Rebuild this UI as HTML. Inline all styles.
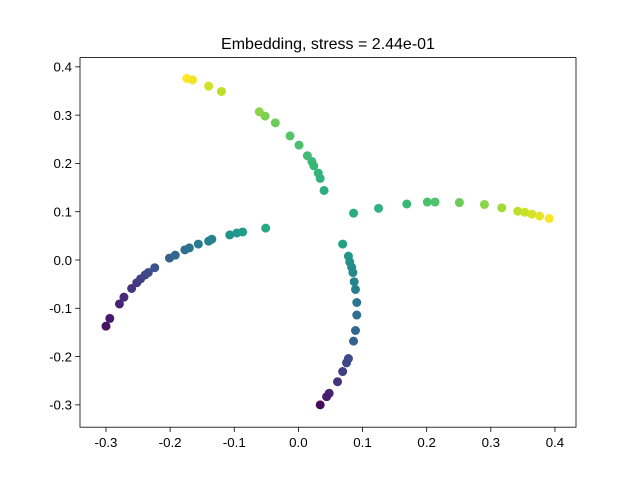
<!DOCTYPE html>
<html><head><meta charset="utf-8"><style>
body{margin:0;background:#fff;}
svg{display:block;font-family:"Liberation Sans",sans-serif;}
</style></head><body>
<svg id="chart" width="640" height="480">
<rect width="640" height="480" fill="#fff"/>
<text x="328" y="49" text-anchor="middle" font-size="16">Embedding, stress = 2.44e-01</text>
<g id="ticks"></g>
<g id="points"></g>
<rect x="80" y="57.6" width="496" height="369.6" fill="none" stroke="#000" stroke-width="0.8"/>
</svg>
<script>
const xVals=[-0.300,-0.294,-0.279,-0.272,-0.260,-0.252,-0.246,-0.239,-0.234,-0.224,-0.201,-0.192,-0.177,-0.170,-0.156,-0.140,-0.135,-0.107,-0.096,-0.087,-0.051,
0.069,0.078,0.080,0.083,0.085,0.087,0.089,0.091,0.091,0.089,0.086,0.078,0.075,0.069,0.061,0.048,0.044,0.034,
-0.174,-0.165,-0.140,-0.120,-0.061,-0.052,-0.036,-0.013,0.001,0.014,0.021,0.024,0.031,0.034,0.040,
0.086,0.125,0.169,0.201,0.213,0.251,0.290,0.317,0.342,0.353,0.364,0.376,0.391];
const yVals=[-0.137,-0.121,-0.091,-0.077,-0.059,-0.047,-0.039,-0.031,-0.026,-0.016,0.004,0.010,0.021,0.025,0.033,0.039,0.043,0.052,0.056,0.058,0.066,
0.033,0.008,-0.004,-0.015,-0.026,-0.045,-0.061,-0.088,-0.114,-0.146,-0.168,-0.204,-0.213,-0.231,-0.252,-0.276,-0.283,-0.300,
0.376,0.373,0.360,0.349,0.307,0.298,0.284,0.257,0.238,0.216,0.204,0.195,0.180,0.169,0.144,
0.097,0.107,0.116,0.120,0.120,0.119,0.115,0.108,0.101,0.099,0.095,0.091,0.086];
const colorVals=[0.05,0.07,0.10,0.12,0.15,0.17,0.19,0.21,0.23,0.26,0.31,0.33,0.36,0.38,0.41,0.44,0.45,0.51,0.53,0.55,0.60,
0.57,0.53,0.51,0.49,0.47,0.45,0.43,0.39,0.36,0.33,0.31,0.24,0.22,0.19,0.15,0.10,0.08,0.03,
1.00,0.98,0.93,0.90,0.82,0.80,0.77,0.73,0.71,0.69,0.68,0.67,0.66,0.65,0.62,
0.62,0.64,0.67,0.71,0.72,0.77,0.82,0.86,0.90,0.92,0.94,0.96,1.00];
const xTicks=[-0.3,-0.2,-0.1,0.0,0.1,0.2,0.3,0.4];
const yTicks=[-0.3,-0.2,-0.1,0.0,0.1,0.2,0.3,0.4];
const X=v=>298.4+v*641.4;
const Y=v=>260-v*482.9;
const vir=[[68,1,84],[72,40,120],[62,73,137],[49,104,142],[38,130,142],[31,158,137],[53,183,121],[110,206,88],[181,222,43],[253,231,37]];
function cmap(t){t=Math.max(0,Math.min(1,t))*9;const i=Math.min(8,Math.floor(t)),f=t-i;const a=vir[i],b=vir[i+1];return 'rgb('+a.map((c,k)=>Math.round(c+(b[k]-c)*f)).join(',')+')';}
const NS='http://www.w3.org/2000/svg';
const tg=document.getElementById('ticks');
function mk(tag,attrs,parent){const e=document.createElementNS(NS,tag);for(const k in attrs)e.setAttribute(k,attrs[k]);parent.appendChild(e);return e;}
xTicks.forEach(v=>{
  const l=mk('line',{x1:X(v),x2:X(v),y1:427.2,y2:432,stroke:'#000','stroke-width':0.8},tg);
  
  
  const t=mk('text',{x:X(v),y:447,'text-anchor':'middle','font-size':13.3},tg);
  
  
  t.textContent=v.toFixed(1);
});
yTicks.forEach(v=>{
  const l=mk('line',{x1:75.2,x2:80,y1:Y(v),y2:Y(v),stroke:'#000','stroke-width':0.8},tg);
  
  
  const t=mk('text',{x:72,y:Y(v)+4.8,'text-anchor':'end','font-size':13.3},tg);
  
  
  t.textContent=v.toFixed(1);
});
const pg=document.getElementById('points');
xVals.forEach((v,i)=>{
  const c=mk('circle',{cx:X(v),cy:Y(yVals[i]),r:4.5,fill:cmap(colorVals[i])},pg);
  
  
});
</script>
</body></html>
